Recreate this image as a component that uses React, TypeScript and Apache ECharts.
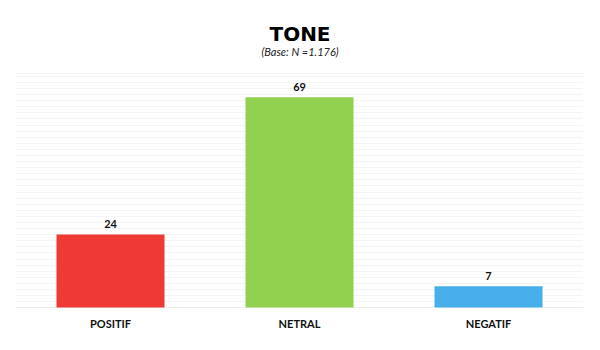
import React, { useEffect, useRef } from "react";
import * as echarts from "echarts";

const categories = ["POSITIF", "NETRAL", "NEGATIF"];
const values = [24, 69, 7];
const barColors = ["#EE3935", "#92D050", "#47AEEA"];
const titleText = "TONE";
const subtitleText = "(Base: N =1.176)";

export default function App() {
  const ref = useRef<HTMLDivElement>(null);
  useEffect(() => {
    if (!ref.current) return;
    const chart = echarts.init(ref.current, undefined, { renderer: "svg" });
    chart.setOption({
      animation: false,
      backgroundColor: "#ffffff",
      title: [
        {
          text: titleText,
          left: "center",
          top: 19,
          textStyle: {
            fontFamily: "DejaVu Sans",
            fontWeight: "bold",
            fontSize: 20,
            color: "#000000",
          },
        },
        {
          text: subtitleText,
          left: "center",
          top: 41,
          textStyle: {
            fontFamily: "Lato",
            fontStyle: "italic",
            fontWeight: "normal",
            fontSize: 11,
            color: "#222222",
          },
        },
      ],
      grid: { left: 16, right: 17, top: 73, bottom: 42.5, containLabel: false },
      xAxis: {
        type: "category",
        data: categories,
        axisLine: { show: true, lineStyle: { color: "#eeeeee" } },
        axisTick: { show: false },
        axisLabel: {
          margin: 10,
          fontFamily: "Lato",
          fontWeight: "bold",
          fontSize: 11,
          color: "#111111",
        },
      },
      yAxis: {
        type: "value",
        min: 0,
        max: 77,
        interval: 2,
        axisLabel: { show: false },
        axisLine: { show: false },
        axisTick: { show: false },
        splitLine: { show: true, lineStyle: { color: "#f4f4f4", width: 1 } },
      },
      series: [
        {
          type: "bar",
          barWidth: 108,
          data: values.map((v, i) => ({ value: v, itemStyle: { color: barColors[i] } })),
          label: {
            show: true,
            position: "top",
            distance: 5,
            fontFamily: "Lato",
            fontWeight: "bold",
            fontSize: 11,
            color: "#111111",
          },
        },
      ],
    });
    return () => chart.dispose();
  }, []);
  return (
    <div
      ref={ref}
      style={{ position: "absolute", left: 0, top: 0, width: 600, height: 350, background: "#fff" }}
    />
  );
}
